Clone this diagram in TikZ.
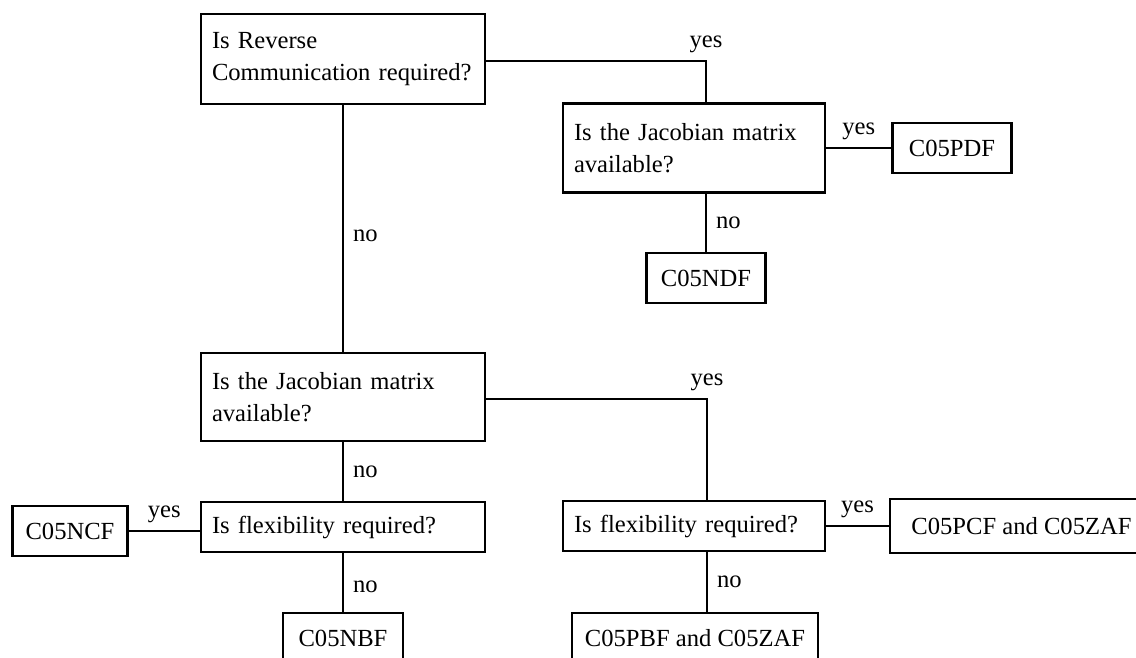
\documentclass[tikz,border=0pt]{standalone}
\usepackage{fontspec}
\setmainfont{Liberation Serif}
\usetikzlibrary{positioning}

\begin{document}
\begin{tikzpicture}[x=0.5pt,y=-0.5pt]
		\tikzset{question/.style = {shape=rectangle, draw, line width=1.4pt, align=left, inner xsep=5.5pt, font=\fontsize{12.3}{16}\selectfont}}
		\tikzset{routine/.style = {shape=rectangle, draw, line width=1.4pt, minimum height=25pt, inner xsep=0pt, font=\fontsize{12.3}{16}\selectfont}}
		\tikzset{link/.style = {line width=1.1pt}}
		\tikzset{answer/.style = {font=\fontsize{12.3}{16}\selectfont, inner sep=1.5pt}}

		\path[use as bounding box, clip] (0,0) rectangle (1136,658);

		\node[question, text width=131pt, minimum height=45pt] (Q_rev) at (343,59) {Is Reverse\\Communication required?};
		\node[question, text width=120pt, minimum height=44.5pt] (Q_jacA) at (694,148) {Is the Jacobian matrix\\available?};
		\node[question, text width=131pt, minimum height=44pt] (Q_jacB) at (343,397) {Is the Jacobian matrix\\available?};
		\node[question, text width=131pt, minimum height=25pt] (Q_flexL) at (343,527) {Is flexibility required?};
		\node[question, text width=120pt, minimum height=25pt] (Q_flexR) at (694,526) {Is flexibility required?};

		\node[routine, minimum width=59.5pt] (R_pdf) at (952,148) {C05PDF};
		\node[routine, minimum width=59.5pt] (R_ndf) at (706,278) {C05NDF};
		\node[routine, minimum width=57.5pt] (R_ncf) at (70,531) {C05NCF};
		\node[routine, minimum width=60pt] (R_nbf) at (343,638) {C05NBF};
		\node[routine, minimum width=123pt] (R_pbf) at (695,638) {C05PBF and C05ZAF};
		\node[routine, minimum width=131.5pt, minimum height=27pt] (R_pcf) at (1021.5,526) {C05PCF and C05ZAF};

		\coordinate (T_top) at (706,61);
		\coordinate (T_mid) at (707,399);

		\draw[link] (Q_rev.east |- T_top) -- (T_top) node[answer, above=2pt] {yes} -- (T_top |- Q_jacA.north);
		\draw[link] (Q_rev) -- node[answer, right=3pt, pos=0.53] {no} (Q_jacB);
		\draw[link] (Q_jacA) -- node[answer, above=2pt] {yes} (R_pdf);
		\draw[link] (R_ndf |- Q_jacA.south) -- node[answer, right=3pt] {no} (R_ndf);
		\draw[link] (Q_jacB.east |- T_mid) -- (T_mid) node[answer, above=2pt] {yes} -- (T_mid |- Q_flexR.north);
		\draw[link] (Q_jacB) -- node[answer, right=3pt] {no} (Q_flexL);
		\draw[link] (Q_flexL.west |- R_ncf) -- node[answer, above=2pt] {yes} (R_ncf);
		\draw[link] (Q_flexL) -- node[answer, right=3pt, pos=0.57] {no} (R_nbf);
		\draw[link] (Q_flexR) -- node[answer, above=2pt] {yes} (R_pcf);
		\draw[link] (T_mid |- Q_flexR.south) -- node[answer, right=3pt] {no} (T_mid |- R_pbf.north);

	\end{tikzpicture}
\end{document}
